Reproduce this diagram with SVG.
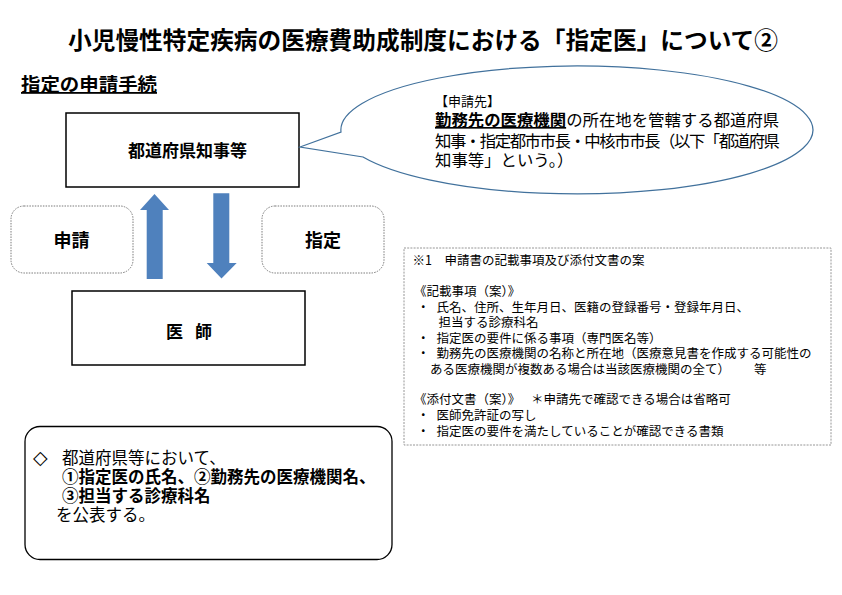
<svg xmlns="http://www.w3.org/2000/svg" width="842" height="595" viewBox="0 0 842 595">
<style>
text{font-family:"Noto Sans CJK JP","Noto Sans CJK SC",sans-serif;fill:#000}
.title{font-size:23.5px;font-weight:bold}
.sub{font-size:18px;font-weight:bold}
.node{fill:#fff;stroke:#000;stroke-width:1.5}
.nlabel{font-size:17px;font-weight:bold}
.dot{fill:#fff;stroke:#7a7a7a;stroke-width:1;stroke-dasharray:1.5 1.2}
.blabel{font-size:18px;font-weight:bold}
.arrow{fill:#4F81BD}
.bubble{fill:#fff;stroke:#41719C;stroke-width:1.2}
.bt{font-size:16.4px}
.note{fill:#fff;stroke:#8a8a8a;stroke-width:0.9;stroke-dasharray:2 1.2}
.nt{font-size:12.5px}
.pub{fill:#fff;stroke:#000;stroke-width:1.3}
.pt{font-size:16.5px}
.b{font-weight:bold}
.sym{font-family:"DejaVu Sans",sans-serif;font-size:19px;fill:#000}
</style>
<rect width="842" height="595" fill="#fff"/>
<g id="title">
<text class="title" x="423" y="49" text-anchor="middle" textLength="710" lengthAdjust="spacingAndGlyphs">小児慢性特定疾病の医療費助成制度における「指定医」について②</text>
</g>
<g id="subtitle">
<text class="sub" x="21" y="91" textLength="136" lengthAdjust="spacingAndGlyphs" text-decoration="underline">指定の申請手続</text>
</g>
<g id="node-prefecture">
<rect class="node" x="66" y="113" width="233" height="74"/>
<text class="nlabel" x="187.5" y="157" text-anchor="middle">都道府県知事等</text>
</g>
<g id="node-doctor">
<rect class="node" x="72" y="291" width="233" height="74"/>
<text class="nlabel" y="338"><tspan x="166">医</tspan> <tspan x="195">師</tspan></text>
</g>
<g id="label-apply">
<rect class="dot" x="11" y="206" width="122" height="67" rx="13"/>
<text class="blabel" x="71.5" y="247" text-anchor="middle">申請</text>
</g>
<g id="label-designate">
<rect class="dot" x="262" y="206" width="122" height="67" rx="13"/>
<text class="blabel" x="323" y="247" text-anchor="middle">指定</text>
</g>
<g id="connectors">
<polygon class="arrow" points="154.5,194 169,210 162.7,210 162.7,279 146.7,279 146.7,210 140,210"/>
<polygon class="arrow" points="213.3,193.3 229.3,193.3 229.3,263 236.7,263 221.5,278.5 206.7,263 213.3,263"/>
</g>
<g id="bubble">
<path class="bubble" d="M300,147 L341,132 A236 64 0 1 1 363,157 Z"/>
<text x="435" y="106" font-size="13">【申請先】</text>
<text class="bt" x="435" y="126"><tspan class="b" text-decoration="underline">勤務先の医療機関</tspan>の所在地を管轄する都道府県</text>
<text class="bt" x="435" y="146.5" textLength="345" lengthAdjust="spacing">知事・指定都市市長・中核市市長（以下「都道府県</text>
<text class="bt" x="435" y="166">知事等」という。）</text>
</g>
<g id="notes">
<rect class="note" x="404" y="248" width="427" height="197"/>
<text class="nt" x="412.5" y="265">※1　申請書の記載事項及び添付文書の案</text>
<text class="nt" x="414" y="296">《記載事項（案）》</text>
<text class="nt" y="311.5"><tspan x="417">・</tspan><tspan x="436.5">氏名、住所、生年月日、医籍の登録番号・登録年月日、</tspan></text>
<text class="nt" x="438.5" y="327">担当する診療科名</text>
<text class="nt" y="342.5"><tspan x="417">・</tspan><tspan x="436.5">指定医の要件に係る事項（専門医名等）</tspan></text>
<text class="nt" y="358"><tspan x="417">・</tspan><tspan x="436.5">勤務先の医療機関の名称と所在地（医療意見書を作成する可能性の</tspan></text>
<text class="nt" y="373.5"><tspan x="430">ある医療機関が複数ある場合は当該医療機関の全て）</tspan><tspan x="754">等</tspan></text>
<text class="nt" y="404"><tspan x="414">《添付文書（案）》</tspan><tspan x="531">＊申請先で確認できる場合は省略可</tspan></text>
<text class="nt" y="420"><tspan x="417">・</tspan><tspan x="436.5">医師免許証の写し</tspan></text>
<text class="nt" y="435.5"><tspan x="417">・</tspan><tspan x="436.5">指定医の要件を満たしていることが確認できる書類</tspan></text>
</g>
<g id="publish">
<rect class="pub" x="25" y="426.5" width="367" height="133" rx="15"/>
<text class="pt" y="464"><tspan class="sym" x="33">◇</tspan><tspan x="62">都道府県等において、</tspan></text>
<text class="pt b" x="62" y="483">①指定医の氏名、②勤務先の医療機関名、</text>
<text class="pt b" x="62" y="502">③担当する診療科名</text>
<text class="pt" x="56" y="521">を公表する。</text>
</g>
</svg>
